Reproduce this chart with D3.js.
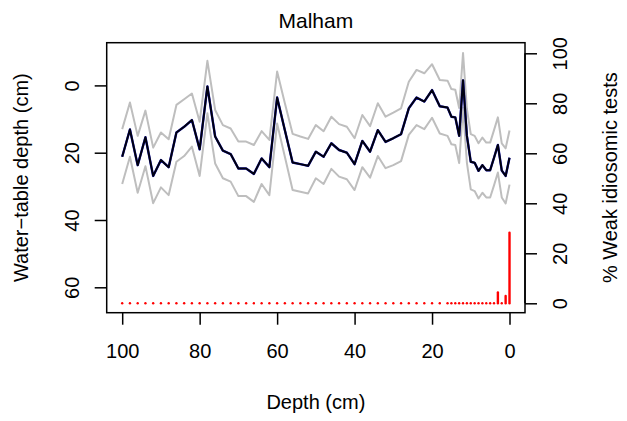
<!DOCTYPE html>
<html>
<head>
<meta charset="utf-8">
<script src="https://cdn.jsdelivr.net/npm/d3@7"></script>
<style>
  body { margin: 0; background: #fff; }
  svg { display: block; }
</style>
</head>
<body>
<svg></svg>
<script>
// sample depths (cm): every 2 cm down to 18, then every 1 cm
const depths = [100, 98, 96, 94, 92, 90, 88, 86, 84, 82, 80, 78, 76, 74, 72, 70, 68, 66, 64, 62,
                60, 58, 56, 54, 52, 50, 48, 46, 44, 42, 40, 38, 36, 34, 32, 30, 28, 26, 24, 22,
                20, 18, 16, 15, 14, 13, 12, 11, 10, 9, 8, 7, 6, 5, 4, 3, 2, 1, 0];

// reconstructed water-table depth (cm)
const wtd = [21.2, 13.1, 23.7, 15.4, 26.9, 22.2, 24.3, 14.0, 12.3, 10.3, 19.0, 0.3, 15.2, 19.4, 20.4, 24.7, 24.7, 26.3, 21.7, 24.3,
             3.6, 13.3, 22.9, 23.4, 23.9, 19.7, 21.2, 17.2, 19.2, 20.0, 23.4, 16.5, 19.7, 13.3, 16.8, 15.7, 14.5, 6.8, 3.6, 4.8,
             1.4, 6.2, 6.6, 9.3, 9.5, 15.0, -1.5, 15.0, 22.7, 23.0, 25.4, 23.7, 25.2, 25.2, 21.5, 17.7, 25.3, 26.9, 21.5];

// error band, upper (shallower) and lower (deeper)
const wtdUpper = [13.0, 5.1, 15.0, 7.5, 18.5, 14.0, 16.0, 5.8, 4.1, 2.4, 10.8, -7.3, 7.3, 11.8, 12.8, 16.7, 16.7, 17.7, 13.6, 16.2,
                  -4.1, 5.3, 14.4, 15.2, 15.9, 11.8, 13.6, 9.3, 11.5, 12.3, 15.7, 8.8, 12.1, 5.3, 9.3, 8.1, 6.8, -1.1, -4.6, -3.6,
                  -6.3, -1.6, -1.4, 1.1, 1.3, 6.7, -9.6, 7.0, 14.5, 15.0, 17.2, 15.5, 17.0, 17.0, 13.3, 9.5, 17.2, 18.7, 13.4];
const wtdLower = [29.3, 21.2, 31.9, 24.0, 35.0, 30.3, 32.6, 22.7, 21.0, 18.2, 26.9, 8.3, 23.2, 27.6, 28.6, 32.9, 32.9, 34.6, 29.3, 32.6,
                  11.3, 21.2, 31.1, 31.6, 32.1, 27.6, 29.3, 24.8, 27.1, 27.9, 31.1, 24.3, 27.4, 21.0, 24.6, 23.7, 22.5, 14.7, 11.8, 13.0,
                  9.6, 14.3, 15.0, 17.5, 17.7, 23.1, 6.6, 23.0, 30.9, 31.4, 33.6, 31.9, 33.3, 33.3, 29.7, 25.9, 33.3, 35.1, 29.5];

// % weak idiosomic tests
const weakPct = [0, 0, 0, 0, 0, 0, 0, 0, 0, 0, 0, 0, 0, 0, 0, 0, 0, 0, 0, 0,
                 0, 0, 0, 0, 0, 0, 0, 0, 0, 0, 0, 0, 0, 0, 0, 0, 0, 0, 0, 0,
                 0, 0, 0, 0, 0, 0, 0, 0, 0, 0, 0, 0, 0, 0, 0, 4.3, 0, 2.9, 28.2];

const xTicks = [100, 80, 60, 40, 20, 0];
const leftTicks = [0, 20, 40, 60];
const rightTicks = [0, 20, 40, 60, 80, 100];

const width = 627, height = 421;
const box = { left: 106.7, right: 525, top: 42.7, bottom: 312.7 };
const font = "'Liberation Sans', Arial, Helvetica, sans-serif";
const fs = 20;

const svg = d3.select("svg").attr("width", width).attr("height", height);

// scales (R-style 4% padding)
const x = d3.scaleLinear().domain([104, -4]).range([box.left, box.right]);
const y = d3.scaleLinear().domain([0, 60]).range([85.4, 287.3]);
const y2 = d3.scaleLinear().domain([0, 100]).range([303.3, 53.3]);

// bands and mean line
const line = d3.line().x((d, i) => x(depths[i])).y(d => y(d));
[wtdUpper, wtdLower].forEach(s => {
  svg.append("path").attr("d", line(s))
    .attr("fill", "none").attr("stroke", "#bebebe").attr("stroke-width", 2)
    .attr("stroke-linejoin", "round");
});
svg.append("path").attr("d", line(wtd))
  .attr("fill", "none").attr("stroke", "#2020c0").attr("stroke-width", 2.4)
  .attr("stroke-linejoin", "round");
svg.append("path").attr("d", line(wtd))
  .attr("fill", "none").attr("stroke", "#000010").attr("stroke-width", 2)
  .attr("stroke-linejoin", "round");

// weak tests as histogram-type lines
svg.append("g").selectAll("line").data(weakPct).join("line")
  .attr("x1", (d, i) => x(depths[i])).attr("x2", (d, i) => x(depths[i]))
  .attr("y1", y2(0)).attr("y2", d => y2(d))
  .attr("stroke", "#ff0000").attr("stroke-width", 2.4).attr("stroke-linecap", "round");

// box
svg.append("rect")
  .attr("x", box.left).attr("y", box.top)
  .attr("width", box.right - box.left).attr("height", box.bottom - box.top)
  .attr("fill", "none").attr("stroke", "#000").attr("stroke-width", 1.5);

function styleAxis(g) {
  g.attr("font-family", font).attr("font-size", fs);
  g.selectAll("path, line").attr("stroke", "#000").attr("stroke-width", 1.5);
  g.selectAll("text").attr("fill", "#000");
}

// bottom axis
const gx = svg.append("g")
  .attr("transform", "translate(0," + box.bottom + ")")
  .call(d3.axisBottom(x).tickValues(xTicks).tickSize(12).tickSizeOuter(0))
  .call(styleAxis);
gx.select(".domain").remove();
gx.selectAll("text").attr("y", 45.5).attr("dy", null);

// left axis
const gy = svg.append("g")
  .attr("transform", "translate(" + box.left + ",0)")
  .call(d3.axisLeft(y).tickValues(leftTicks).tickSize(12).tickSizeOuter(0))
  .call(styleAxis);
gy.select(".domain").remove();
gy.selectAll("text")
  .attr("x", null).attr("dy", null).attr("text-anchor", "middle")
  .attr("transform", "translate(-28,0) rotate(-90)");

// right axis
const gy2 = svg.append("g")
  .attr("transform", "translate(" + box.right + ",0)")
  .call(d3.axisRight(y2).tickValues(rightTicks).tickSize(12).tickSizeOuter(0))
  .call(styleAxis);
gy2.select(".domain").attr("d", "M0," + y2(0) + "V" + y2(100));
gy2.selectAll("text")
  .attr("x", null).attr("dy", null).attr("text-anchor", "middle")
  .attr("transform", "translate(42.3,0) rotate(-90)");

// titles
const cx = (box.left + box.right) / 2, cy = (box.top + box.bottom) / 2;
svg.append("text").attr("x", cx).attr("y", 28)
  .attr("text-anchor", "middle").attr("font-family", font).attr("font-size", 21)
  .text("Malham");
svg.append("text").attr("x", cx).attr("y", 409)
  .attr("text-anchor", "middle").attr("font-family", font).attr("font-size", fs)
  .text("Depth (cm)");
svg.append("text")
  .attr("transform", "translate(28," + cy + ") rotate(-90)")
  .attr("text-anchor", "middle").attr("font-family", font).attr("font-size", fs)
  .text("Water\u2212table depth (cm)");
svg.append("text")
  .attr("transform", "translate(617," + cy + ") rotate(-90)")
  .attr("text-anchor", "middle").attr("font-family", font).attr("font-size", fs)
  .text("% Weak idiosomic tests");
</script>
</body>
</html>
